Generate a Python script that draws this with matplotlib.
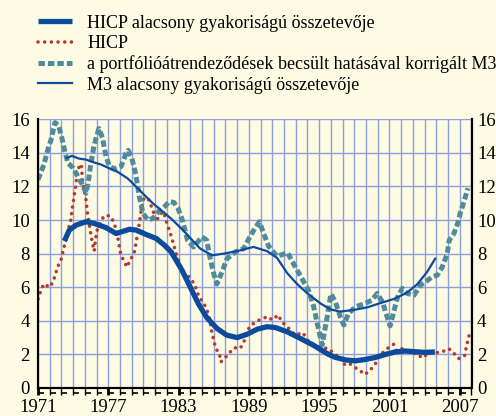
import matplotlib
matplotlib.use('Agg')
from matplotlib import pyplot as plt
import numpy as np

# HICP (havi/negyedéves adat, pontozott)
hicp_ev = [1971.0, 1971.25, 1971.5, 1972.0, 1972.3, 1972.5, 1972.7, 1973.0, 1973.15, 1973.35,
           1973.5, 1973.65, 1973.8, 1973.9, 1974.0, 1974.1, 1974.2, 1974.3, 1974.4, 1974.55,
           1974.7, 1974.8, 1974.95, 1975.1, 1975.2, 1975.3, 1975.45, 1975.6, 1975.7, 1975.8,
           1975.9, 1976.05, 1976.5, 1976.8, 1977.25, 1977.65, 1977.8, 1977.95, 1978.05, 1978.3,
           1978.6, 1978.85, 1979.2, 1979.45, 1979.65, 1979.85, 1980.05, 1980.4, 1980.85, 1981.1,
           1981.35, 1981.7, 1982.1, 1982.3, 1982.55, 1982.8, 1983.0, 1983.35, 1983.85, 1984.35,
           1984.6, 1984.75, 1985.1, 1985.4, 1985.6, 1985.85, 1986.0, 1986.15, 1986.5, 1986.6,
           1986.9, 1987.35, 1987.75, 1988.25, 1988.6, 1989.05, 1989.6, 1990.05, 1990.6, 1991.0,
           1991.25, 1991.5, 1991.8, 1992.2, 1992.95, 1993.6, 1994.0, 1994.5, 1995.1, 1995.8,
           1996.3, 1996.9, 1997.1, 1997.5, 1998.0, 1998.45, 1998.9, 1999.4, 1999.8, 2000.1,
           2000.65, 2001.0, 2001.35, 2001.6, 2002.1, 2002.9, 2003.4, 2003.9, 2004.35, 2004.9,
           2005.5, 2006.05, 2006.45, 2006.9, 2007.4, 2007.55, 2007.7, 2007.85]
hicp = [5.3, 5.8, 6.2, 6.0, 6.35, 6.8, 7.25, 7.7, 8.2, 8.7,
        9.1, 9.6, 10.0, 10.6, 11.0, 11.5, 11.9, 12.5, 12.9, 13.3,
        13.3, 12.3, 11.8, 11.2, 10.5, 10.1, 9.4, 8.8, 8.45, 8.15,
        8.8, 9.4, 10.1, 10.3, 10.2, 9.5, 9.0, 8.4, 8.0, 7.6,
        7.2, 7.6, 8.0, 9.0, 9.8, 10.8, 11.3, 11.3, 10.5, 9.9,
        10.3, 10.5, 9.6, 9.2, 8.6, 8.0, 7.6, 6.9, 6.65, 6.2,
        5.7, 5.4, 5.1, 4.7, 4.25, 3.3, 2.85, 2.4, 2.0, 1.55,
        1.75, 2.1, 2.4, 2.35, 2.8, 3.65, 3.95, 4.1, 4.25, 4.05,
        4.2, 4.35, 3.95, 3.7, 3.15, 3.3, 2.85, 2.6, 2.4, 2.35,
        2.0, 1.8, 1.4, 1.5, 1.25, 1.05, 0.8, 1.1, 1.45, 1.9,
        2.25, 2.45, 2.6, 2.2, 2.35, 2.15, 1.95, 1.8, 2.15, 2.1,
        2.15, 2.35, 2.1, 1.75, 1.9, 2.4, 2.85, 3.3]

# HICP alacsony gyakoriságú összetevője
hicp_lf_ev = [1973.25, 1973.67, 1974.25, 1975.1, 1975.8, 1976.8, 1977.67, 1978.8, 1979.4, 1980.2,
              1981.1, 1981.8, 1982.37, 1983.3, 1984.0, 1984.7, 1985.4, 1986.27, 1987.1, 1988.0,
              1988.84, 1989.7, 1990.55, 1991.26, 1992.26, 1993.4, 1994.5, 1995.8, 1996.4, 1997.24,
              1998.1, 1998.95, 1999.8, 2000.66, 2001.5, 2002.35, 2003.2, 2004.05, 2004.87]
hicp_lf = [8.75, 9.4, 9.7, 9.9, 9.8, 9.55, 9.2, 9.45, 9.4, 9.15,
           8.9, 8.5, 8.1, 7.0, 6.0, 5.0, 4.2, 3.55, 3.15, 3.0,
           3.2, 3.5, 3.65, 3.6, 3.35, 2.95, 2.55, 2.0, 1.82, 1.67,
           1.62, 1.7, 1.82, 2.0, 2.15, 2.2, 2.16, 2.12, 2.15]

# M3 alacsony gyakoriságú összetevője
m3_lf_ev = [1973.45, 1973.9, 1974.5, 1975.1, 1975.7, 1976.4, 1977.24, 1977.8, 1978.67, 1979.4,
            1979.95, 1980.8, 1981.66, 1982.5, 1983.65, 1984.3, 1984.85, 1985.85, 1986.84, 1987.98,
            1989.4, 1990.55, 1991.4, 1992.26, 1993.1, 1993.97, 1995.1, 1995.96, 1996.8, 1997.95,
            1999.1, 2000.2, 2001.37, 2002.5, 2003.37, 2004.2, 2004.9]
m3_lf = [13.7, 13.82, 13.66, 13.6, 13.45, 13.3, 13.03, 12.87, 12.47, 11.97,
         11.58, 11.0, 10.5, 10.0, 9.2, 8.7, 8.3, 7.9, 8.0, 8.15,
         8.4, 8.15, 7.75, 6.85, 6.2, 5.65, 5.04, 4.68, 4.55, 4.65,
         4.8, 5.05, 5.3, 5.68, 6.18, 6.9, 7.7]

# a portfólióátrendeződések becsült hatásával korrigált M3
m3_korr_ev = [1971.0, 1971.5, 1971.83, 1972.1, 1972.45, 1972.75, 1973.05, 1973.3, 1973.55, 1974.0,
              1974.4, 1974.8, 1975.1, 1975.3, 1975.5, 1975.75, 1975.96, 1976.2, 1976.5, 1976.8,
              1977.1, 1977.5, 1978.1, 1978.5, 1978.7, 1979.0, 1979.35, 1979.65, 1979.95, 1980.4,
              1980.8, 1981.37, 1981.8, 1982.2, 1982.6, 1982.95, 1983.37, 1983.76, 1984.27, 1985.0,
              1985.4, 1985.64, 1986.0, 1986.27, 1986.7, 1987.13, 1987.84, 1988.55, 1989.12, 1989.55,
              1989.9, 1990.26, 1990.68, 1991.4, 1992.3, 1992.97, 1993.54, 1994.1, 1994.53, 1994.96,
              1995.25, 1995.68, 1996.0, 1996.38, 1996.8, 1997.1, 1997.5, 1998.1, 1998.8, 1999.5,
              1999.95, 2000.4, 2000.75, 2001.05, 2001.4, 2001.7, 2002.1, 2002.5, 2003.1, 2003.65,
              2004.08, 2004.65, 2005.08, 2005.5, 2005.93, 2006.1, 2006.5, 2006.87, 2007.07, 2007.35,
              2007.7]
m3_korr = [12.4, 13.3, 14.16, 14.75, 15.8, 15.65, 14.85, 14.06, 13.4, 13.1,
           12.6, 12.1, 11.6, 12.3, 13.3, 14.3, 14.9, 15.45, 14.9, 13.8,
           13.2, 13.05, 13.2, 13.95, 14.15, 13.7, 12.7, 11.4, 10.4, 10.0,
           10.1, 10.55, 10.8, 11.1, 11.05, 10.7, 9.9, 8.8, 8.4, 9.0,
           8.8, 7.9, 6.8, 6.2, 6.9, 7.7, 8.1, 8.3, 9.05, 9.55,
           9.9, 9.2, 8.45, 7.85, 8.05, 7.2, 6.5, 5.8, 4.84, 3.45,
           2.56, 4.24, 5.6, 5.13, 4.24, 3.75, 4.44, 4.84, 5.0, 5.23,
           5.63, 5.13, 4.34, 3.7, 4.64, 5.43, 5.93, 5.63, 5.53, 6.13,
           6.32, 6.62, 6.72, 7.2, 8.0, 8.8, 9.2, 9.9, 10.5, 11.08,
           11.9]

felirat_evek = [1971, 1977, 1983, 1989, 1995, 2001, 2007]
minden_ev = list(range(1971, 2009))

hatter = '#fdfbe3'
racs = '#8f9fdc'
kek = '#0b4b9b'
piros = '#b4392f'
turkiz = '#4f8b9d'

plt.rcParams['font.family'] = ['Liberation Serif', 'DejaVu Serif']
plt.rcParams['lines.scale_dashes'] = False

fig = plt.figure(figsize=(4.96, 4.16), dpi=100, facecolor=hatter)
ax = fig.add_axes([38 / 496, 1 - 388 / 416, 433.5 / 496, 268.7 / 416])
ax.set_facecolor(hatter)

l_hicp, = ax.plot(hicp_ev, hicp, color=piros, lw=2.6, dashes=(0.01, 4.8),
                  dash_capstyle='round', label='HICP')
l_korr, = ax.plot(m3_korr_ev, m3_korr, color=turkiz, lw=3.6, dashes=(4.6, 2.2),
                  label='a portfólióátrendeződések becsült hatásával korrigált M3')
l_m3, = ax.plot(m3_lf_ev, m3_lf, color=kek, lw=1.6, label='M3 alacsony gyakoriságú összetevője')
l_lf, = ax.plot(hicp_lf_ev, hicp_lf, color=kek, lw=3.8, solid_capstyle='butt',
                label='HICP alacsony gyakoriságú összetevője')

ax.set_xlim(1971, 2008)
ax.set_ylim(0, 16)
ax.set_xticks(felirat_evek)
ax.set_xticks(minden_ev, minor=True)
ax.set_yticks(range(0, 17, 2))
ax.set_axisbelow(True)
ax.grid(True, which='both', axis='x', color=racs, lw=1.0)
ax.grid(True, which='major', axis='y', color=racs, lw=1.0)

ax.tick_params(axis='y', length=0, labelsize=13.5, pad=6)
ax.tick_params(axis='x', which='major', length=5, width=2, labelsize=13.5, pad=3, direction='out')
ax.tick_params(axis='x', which='minor', length=5, width=1, direction='out')

# jobb oldali tengelyfeliratok
ax2 = ax.twinx()
ax2.set_ylim(0, 16)
ax2.set_yticks(range(0, 17, 2))
ax2.tick_params(axis='y', length=0, labelsize=13.5, pad=4)

# vízszintes fogak a tengely alatt
fog = ax.get_xaxis_transform()
ax.hlines([-5 / 268.7] * len(minden_ev[:-1]), minden_ev[:-1], [e + 0.5 for e in minden_ev[:-1]],
          transform=fog, colors='black', lw=1.2, clip_on=False)

for a in (ax, ax2):
    a.spines['top'].set_visible(False)
    for s in ['left', 'right', 'bottom']:
        a.spines[s].set_color('black')
        a.spines[s].set_linewidth(1.5)

fig.legend(handles=[l_lf, l_hicp, l_korr, l_m3], loc='upper left',
           bbox_to_anchor=(0.062, 0.982), frameon=False, fontsize=13,
           handlelength=1.88, handletextpad=0.85, labelspacing=0.185, borderaxespad=0)

fig.savefig('out.png', dpi=100, facecolor=hatter)
